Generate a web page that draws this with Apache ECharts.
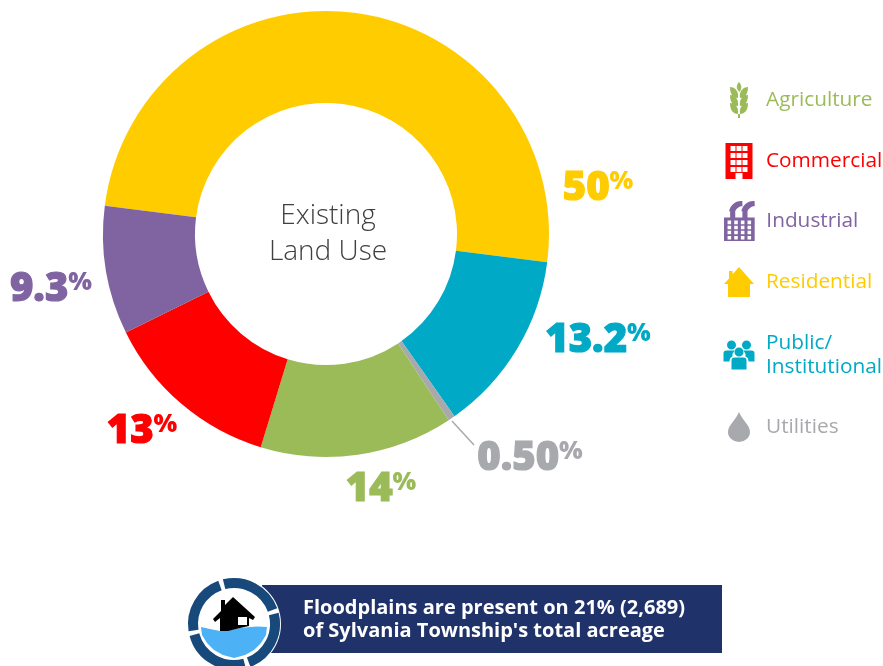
<!DOCTYPE html>
<html><head><meta charset="utf-8">
<style>html,body{margin:0;padding:0;background:#fff}#c{width:883px;height:666px}</style>
<script src="https://cdn.jsdelivr.net/npm/echarts@6/dist/echarts.min.js"></script>
</head><body><div id="c"></div>
<script>
var categories = ['Residential','Public/\nInstitutional','Utilities','Agriculture','Commercial','Industrial'];
var values = [50, 13.2, 0.5, 14, 13, 9.3];
var valueLabels = ['50','13.2','0.50','14','13','9.3'];
var colors = ['#FFCC00','#00A9C5','#A7A9AC','#9BBB59','#FF0000','#8064A2'];
var legendOrder = ['Agriculture','Commercial','Industrial','Residential','Public/\nInstitutional','Utilities'];
var centerText = 'Existing\nLand Use';
var bannerText = "Floodplains are present on 21% (2,689)\nof Sylvania Township's total acreage";

var labelPos = [[598,189],[598,341],[530,459],[381,490],[142,432],[51,290]];
var legendRows = [82,143,201,267,331,412];
var legendIconW = [18,27,30,30,31,22];
var legendIconH = [36,36,40,30,29,30];

function win(x,y,w,h){return 'M'+x+' '+y+'V'+(y+h)+'H'+(x+w)+'V'+y+'Z';}
function leaf(y){return 'M8 '+(y+11)+'C9 '+(y+4)+' 5 '+y+' 0 '+y+'C0 '+(y+7)+' 3 '+(y+11)+' 8 '+(y+11)+'Z'+
  'M10 '+(y+11)+'C9 '+(y+4)+' 13 '+y+' 18 '+y+'C18 '+(y+7)+' 15 '+(y+11)+' 10 '+(y+11)+'Z';}
var wheat = 'M9 0C12 3 12 7 9.5 10C6 7 6 3 9 0Z'+leaf(5)+leaf(13)+leaf(21)+'M8 32H10V36H8Z';
var office = 'M0 0H27V36H17V30H10V36H0Z';
[3,10,17,24].forEach(function(y){[5,11,17].forEach(function(x){office+=win(x,y,5,5);});});
var factory = 'M0 40V17H6V11H5C6 5 12 0 18 1L18 6C15 6 12 8 11 11V17H18V11H17C18 5 24 0 30 1L30 6C27 6 24 8 23 11V17H30V40Z';
[20,25,30,35].forEach(function(y){[3.5,10,16.5,23].forEach(function(x){factory+=win(x,y,3.5,3.5);});});
var house = 'M15 0L30 17H26V30H4V17H0L5 11.5V4H8.5V7.500Z';
var people = 'M8 0A4.5 4.5 0 1 1 8 9A4.5 4.5 0 1 1 8 0Z'+'M23 0A4.5 4.5 0 1 1 23 9A4.5 4.5 0 1 1 23 0Z'+
  'M15.5 7A4.5 4.5 0 1 1 15.5 16A4.5 4.5 0 1 1 15.5 7Z'+
  'M0 21V13Q0 10 3 10H11Q8.5 13 9 16Q6 17 6 21Z'+'M31 21V13Q31 10 28 10H20Q22.5 13 22 16Q25 17 25 21Z'+
  'M8 29V20Q8 17 11 17H20Q23 17 23 20V29Z';
var drop = 'M11 0C14 8 22 13 22 20A11 10 0 0 1 0 20C0 13 8 8 11 0Z'+
  'M13 25Q16 24 16.5 20Q17.5 25 13 26Z';
var iconPaths = [wheat, office, factory, house, people, drop];
var legendColors = ['#9BBB59','#FF0000','#8064A2','#FFCC00','#00A9C5','#A7A9AC'];

var ringCx = 234, ringCy = 624;
function arcSeg(a0,a1){
  return {type:'arc',z:12,shape:{cx:ringCx,cy:ringCy,r:41,startAngle:a0*Math.PI/180,endAngle:a1*Math.PI/180},
    style:{stroke:'#17497A',lineWidth:10,fill:null}};
}
var waterTop = [[201,627],[210,629],[220,631],[230,630],[240,628],[250,627],[258,626.500],[267,627]];
var waterBottom = [[266,635],[261,643],[254,650],[245,655],[234,658],[223,655],[214,650],[207,643],[202,635]];
var waterOutline = waterTop.concat(waterBottom);
var houseOutline = [[233,597],[255,617],[253,620],[249,618],[249,626],[240,628],[228,631],[220,631],[220,618],[215,622],[213,619],[221,611],[221,600],[225,600],[225,605]];

var chart = echarts.init(document.getElementById('c'),null,{renderer:'canvas'});
chart.setOption({
  animation:false,
  backgroundColor:'#fff',
  title:{text:centerText,left:323,top:193,textAlign:'center',
    textStyle:{fontFamily:'Open Sans',fontWeight:300,fontSize:28,lineHeight:36,color:'#404040'}},
  legend:legendOrder.map(function(n,i){
    return {orient:'vertical',left:739-legendIconW[i]/2,top:legendRows[i],itemWidth:44,itemHeight:legendIconH[i],
      selectedMode:false,padding:0,
      data:[{name:n,icon:'path://'+iconPaths[i],textStyle:{color:legendColors[i]}}],
      textStyle:{fontFamily:'Open Sans',fontSize:20.8,lineHeight:24},
      itemStyle:{color:legendColors[i]}};
  }),
  series:[{
    type:'pie',center:[326,234],radius:[131,223],startAngle:172.7,clockwise:true,
    avoidLabelOverlap:false,
    itemStyle:{borderWidth:0},
    data:categories.map(function(n,i){
      return {name:n,value:values[i],itemStyle:{color:colors[i]},
        label:{formatter:'{n|'+valueLabels[i]+'}{p|%}',
          rich:{n:{fontFamily:'Open Sans',fontWeight:800,fontSize:40,color:colors[i],lineHeight:46,textBorderColor:colors[i],textBorderWidth:1.2},
                p:{fontFamily:'Open Sans',fontWeight:800,fontSize:25,color:colors[i],padding:[0,0,14,0]}}}};
    }),
    label:{show:true,position:'outside'},
    labelLine:{show:false},
    labelLayout:function(p){
      return {x:labelPos[p.dataIndex][0],y:labelPos[p.dataIndex][1],align:'center',verticalAlign:'middle'};
    }
  }],
  graphic:{elements:[
    {type:'line',z:5,shape:{x1:452,y1:421,x2:474,y2:445},style:{stroke:'#A7A9AC',lineWidth:1.5}},
    {type:'rect',z:10,shape:{x:262,y:585,width:460,height:68},style:{fill:'#20326A'}},
    {type:'circle',z:11,shape:{cx:ringCx,cy:ringCy,r:47},style:{fill:'#fff'}},
    arcSeg(-104,-20),arcSeg(-14,69),arcSeg(75,165),arcSeg(171,250),
    {type:'polygon',z:13,shape:{points:waterOutline},style:{fill:'#4DB2F5'}},
    {type:'polygon',z:13,shape:{points:houseOutline},style:{fill:'#000'}},
    {type:'rect',z:14,shape:{x:238,y:617,width:9,height:8},style:{fill:'#fff'}},
    {type:'text',z:15,x:303,y:620,style:{text:bannerText,fill:'#fff',font:'700 20px "Open Sans"',lineHeight:23,verticalAlign:'middle'}}
  ]}
});
</script></body></html>
